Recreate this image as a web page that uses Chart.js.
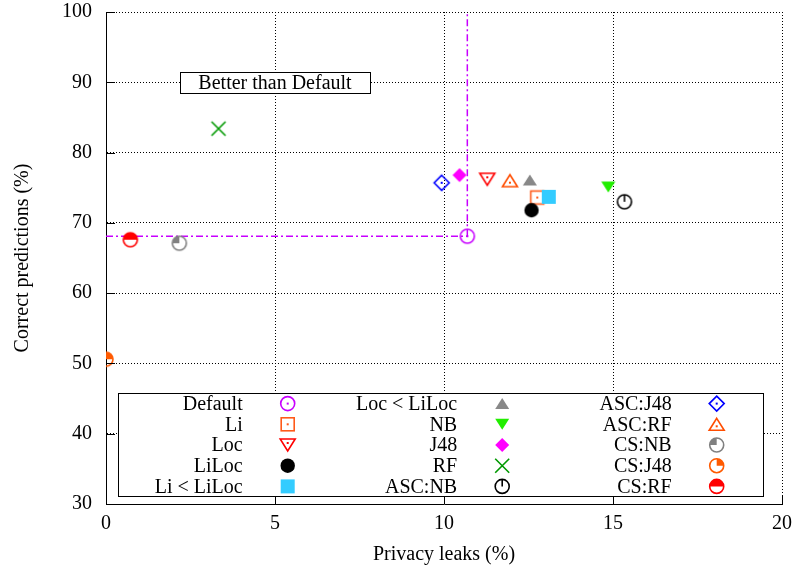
<!DOCTYPE html>
<html>
<head>
<meta charset="utf-8">
<script src="https://cdn.jsdelivr.net/npm/chart.js@4.4.0/dist/chart.umd.min.js"></script>
<style>
  html, body { margin: 0; padding: 0; background: #fff; }
  #wrap { width: 795px; height: 572px; }
</style>
</head>
<body>
<div id="wrap"><canvas id="chart"></canvas></div>
<script>
// series, in legend order (column by column)
const seriesNames = ['Default', 'Li', 'Loc', 'LiLoc', 'Li < LiLoc',
                     'Loc < LiLoc', 'NB', 'J48', 'RF', 'ASC:NB',
                     'ASC:J48', 'ASC:RF', 'CS:NB', 'CS:J48', 'CS:RF'];
const leakValues = [10.69, 12.76, 11.28, 12.59, 13.10,
                    12.54, 14.86, 10.46, 3.33, 15.34,
                    9.93, 11.95, 2.17, 0.0, 0.72];
const correctValues = [68.1, 73.6, 76.2, 71.8, 73.7,
                       76.1, 75.1, 76.8, 83.4, 73.0,
                       75.7, 76.0, 67.1, 50.6, 67.6];
const seriesColors = ['#c800ff', '#ff5a1a', '#ff0000', '#000000', '#33ccff',
                      '#888888', '#22ee00', '#ff00ff', '#009900', '#000000',
                      '#0000ff', '#ff4d00', '#808080', '#ff5a00', '#ff0000'];
const seriesSymbols = ['circleDot', 'squareDot', 'triDownDot', 'circleFill', 'squareFill',
                       'triUpFill', 'triDownFill', 'diamondFill', 'cross', 'circleTick',
                       'diamondDot', 'triUpDot', 'circleQ1', 'circleQ2', 'circleHalf'];

// reference point (Default) lines
const defaultLeak = 10.69;
const defaultCorrect = 68.1;

const xTicks = [0, 5, 10, 15, 20];
const yTicks = [30, 40, 50, 60, 70, 80, 90, 100];

const noteText = 'Better than Default';
const notePos = { x: 5, y: 90 };

const serif = '"Liberation Serif", "DejaVu Serif", serif';

// draw one marker centered at (cx, cy)
function drawSymbol(ctx, kind, color, cx, cy) {
    ctx.save();
    ctx.strokeStyle = color;
    ctx.fillStyle = color;
    ctx.lineWidth = 1.6;
    const r = 7;
    const dot = () => ctx.fillRect(cx - 1, cy - 1, 2, 2);
    const tri = (up, h, w) => {
        ctx.beginPath();
        if (up) {
            ctx.moveTo(cx, cy - h / 2);
            ctx.lineTo(cx + w / 2, cy + h / 2);
            ctx.lineTo(cx - w / 2, cy + h / 2);
        } else {
            ctx.moveTo(cx - w / 2, cy - h / 2);
            ctx.lineTo(cx + w / 2, cy - h / 2);
            ctx.lineTo(cx, cy + h / 2);
        }
        ctx.closePath();
    };
    const diamond = (s) => {
        ctx.beginPath();
        ctx.moveTo(cx, cy - s);
        ctx.lineTo(cx + s, cy);
        ctx.lineTo(cx, cy + s);
        ctx.lineTo(cx - s, cy);
        ctx.closePath();
    };
    switch (kind) {
        case 'circleDot':
            ctx.beginPath(); ctx.arc(cx, cy, r, 0, Math.PI * 2); ctx.stroke(); dot(); break;
        case 'squareDot':
            ctx.strokeRect(cx - 6.5, cy - 6.5, 13, 13); dot(); break;
        case 'triDownDot':
            tri(false, 12, 15); ctx.stroke();
            ctx.fillRect(cx - 1, cy - 3, 2, 2); break;
        case 'triUpDot':
            tri(true, 12, 15); ctx.stroke();
            ctx.fillRect(cx - 1, cy + 1, 2, 2); break;
        case 'circleFill':
            ctx.beginPath(); ctx.arc(cx, cy, 7.2, 0, Math.PI * 2); ctx.fill(); break;
        case 'squareFill':
            ctx.fillRect(cx - 7, cy - 7, 14, 14); break;
        case 'triUpFill':
            tri(true, 11, 14); ctx.fill(); break;
        case 'triDownFill':
            tri(false, 11, 14); ctx.fill(); break;
        case 'diamondFill':
            diamond(7); ctx.fill(); break;
        case 'diamondDot':
            diamond(7.5); ctx.stroke(); dot(); break;
        case 'cross':
            ctx.beginPath();
            ctx.moveTo(cx - 7, cy - 7); ctx.lineTo(cx + 7, cy + 7);
            ctx.moveTo(cx + 7, cy - 7); ctx.lineTo(cx - 7, cy + 7);
            ctx.stroke(); break;
        case 'circleTick':
            ctx.beginPath(); ctx.arc(cx, cy, r, 0, Math.PI * 2); ctx.stroke();
            ctx.beginPath(); ctx.moveTo(cx, cy - r); ctx.lineTo(cx, cy); ctx.stroke(); break;
        case 'circleQ1':
        case 'circleQ2':
        case 'circleHalf': {
            const a0 = kind === 'circleQ1' ? Math.PI : (kind === 'circleQ2' ? -Math.PI / 2 : Math.PI);
            const a1 = kind === 'circleQ1' ? Math.PI * 1.5 : (kind === 'circleQ2' ? 0 : Math.PI * 2);
            ctx.beginPath(); ctx.moveTo(cx, cy); ctx.arc(cx, cy, r, a0, a1); ctx.closePath(); ctx.fill();
            ctx.beginPath(); ctx.arc(cx, cy, r, 0, Math.PI * 2); ctx.stroke();
            break;
        }
    }
    ctx.restore();
}

function makeSymbolImage(kind, color) {
    const c = document.createElement('canvas');
    c.width = 22;
    c.height = 22;
    drawSymbol(c.getContext('2d'), kind, color, 11, 11);
    return c;
}

const symbolImages = seriesNames.map((_, i) => makeSymbolImage(seriesSymbols[i], seriesColors[i]));

const pointSets = seriesNames.map((name, i) => ({
    label: name,
    data: [{ x: leakValues[i], y: correctValues[i] }],
    pointStyle: symbolImages[i],
    pointRadius: 8,
    order: seriesNames.length - i
}));

const refLineStyle = {
    showLine: true,
    borderColor: seriesColors[0],
    borderWidth: 1.5,
    borderDash: [7, 3, 2, 3],
    pointRadius: 0,
    order: 100
};

// legend + note + inner ticks, drawn over the chart
const overlayPlugin = {
    id: 'overlay',
    afterDraw(chart) {
        const { ctx, chartArea: area, scales } = chart;
        ctx.save();

        // inner tick marks (left and bottom only)
        ctx.strokeStyle = '#000';
        ctx.lineWidth = 1;
        ctx.beginPath();
        xTicks.forEach(v => {
            const px = Math.round(scales.x.getPixelForValue(v)) + 0.5;
            ctx.moveTo(px, area.bottom);
            ctx.lineTo(px, area.bottom - 9);
        });
        yTicks.forEach(v => {
            const py = Math.round(scales.y.getPixelForValue(v)) + 0.5;
            ctx.moveTo(area.left, py);
            ctx.lineTo(area.left + 9, py);
        });
        ctx.stroke();

        // "Better than Default" box
        ctx.font = '20px ' + serif;
        const nx = scales.x.getPixelForValue(notePos.x);
        const ny = scales.y.getPixelForValue(notePos.y);
        const nw = 190, nh = 21;
        ctx.fillStyle = '#fff';
        ctx.fillRect(nx - nw / 2, ny - nh / 2, nw, nh);
        ctx.strokeRect(Math.round(nx - nw / 2) + 0.5, Math.round(ny - nh / 2) + 0.5, nw, nh);
        ctx.fillStyle = '#000';
        ctx.textAlign = 'center';
        ctx.textBaseline = 'middle';
        ctx.fillText(noteText, nx, ny + 1);

        // legend box
        const lx = area.left + 12, ly = area.bottom - 111;
        const lw = 645, lh = 103;
        ctx.fillStyle = '#fff';
        ctx.fillRect(lx, ly, lw, lh);
        ctx.strokeRect(lx + 0.5, ly + 0.5, lw, lh);
        ctx.textAlign = 'right';
        ctx.fillStyle = '#000';
        seriesNames.forEach((name, i) => {
            const col = Math.floor(i / 5), row = i % 5;
            const ty = ly + 10.6 + row * 20.7;
            const tx = lx + 124.7 + col * 214.5;
            ctx.fillText(name, tx, ty + 1);
            drawSymbol(ctx, seriesSymbols[i], seriesColors[i], tx + 45, ty);
        });
        ctx.restore();
    }
};

const axisFont = { family: serif, size: 20 };

const chart = new Chart(document.getElementById('chart').getContext('2d'), {
    type: 'scatter',
    data: {
        datasets: [
            ...pointSets,
            Object.assign({ label: 'ref-h', data: [{ x: 0, y: defaultCorrect }, { x: defaultLeak, y: defaultCorrect }] }, refLineStyle),
            Object.assign({ label: 'ref-v', data: [{ x: defaultLeak, y: defaultCorrect }, { x: defaultLeak, y: 100 }] }, refLineStyle)
        ]
    },
    options: {
        responsive: true,
        maintainAspectRatio: false,
        animation: false,
        layout: { padding: 0 },
        plugins: {
            legend: { display: false },
            tooltip: { enabled: false }
        },
        scales: {
            x: {
                type: 'linear',
                min: 0,
                max: 20,
                afterBuildTicks: (s) => { s.ticks = xTicks.map(v => ({ value: v })); },
                afterFit: (s) => { s.height = 68; s.paddingLeft = 0; s.paddingRight = 13; },
                grid: { color: '#000', lineWidth: 1, drawTicks: false },
                border: { display: true, color: '#000', width: 1, dash: [1, 2] },
                ticks: { padding: 8, color: '#000', font: axisFont, maxRotation: 0 },
                title: { display: true, text: 'Privacy leaks (%)', color: '#000', font: axisFont, padding: { top: 0, bottom: 5 } }
            },
            y: {
                type: 'linear',
                min: 30,
                max: 100,
                afterBuildTicks: (s) => { s.ticks = yTicks.map(v => ({ value: v })); },
                afterFit: (s) => { s.width = 106; s.paddingTop = 12; s.paddingBottom = 0; },
                grid: { color: '#000', lineWidth: 1, drawTicks: false },
                border: { display: true, color: '#000', width: 1, dash: [1, 2] },
                ticks: { padding: 14, color: '#000', font: axisFont },
                title: { display: true, text: 'Correct predictions (%)', color: '#000', font: axisFont, padding: { top: 11, bottom: 0 } }
            }
        }
    },
    plugins: [overlayPlugin]
});
</script>
</body>
</html>
